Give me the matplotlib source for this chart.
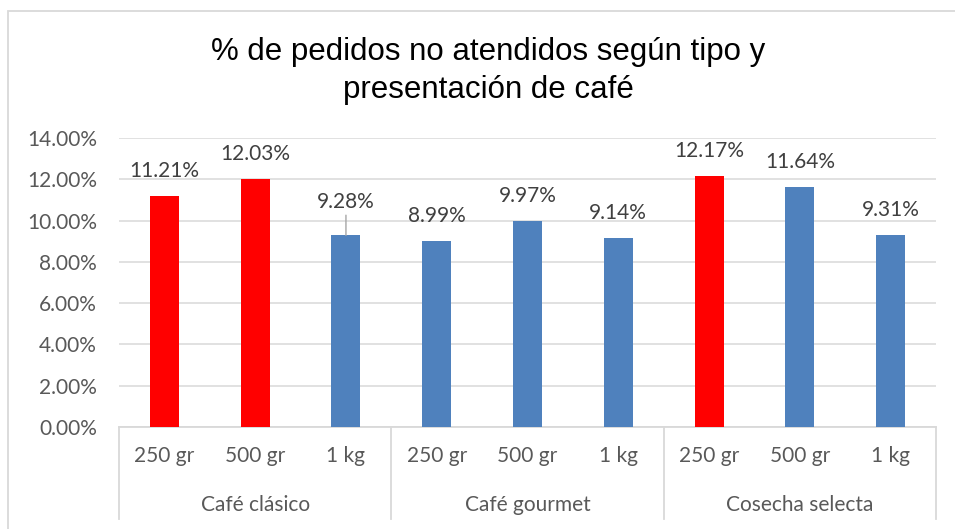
import matplotlib
matplotlib.use("Agg")
import matplotlib.pyplot as plt
from matplotlib.patches import Rectangle
from matplotlib.ticker import PercentFormatter, MultipleLocator
from matplotlib.transforms import blended_transform_factory

# datos
grupos = ["Café clásico", "Café gourmet", "Cosecha selecta"]
presentaciones = ["250 gr", "500 gr", "1 kg"]
porcentajes = [11.21, 12.03, 9.28, 8.99, 9.97, 9.14, 12.17, 11.64, 9.31]
destacados = [True, True, False, False, False, False, True, False, False]

ROJO = "#FF0000"
AZUL = "#4F81BD"
GRIS_TXT = "#595959"
GRIS_LINEA = "#D9D9D9"

W, H = 955, 529
fig = plt.figure(figsize=(W / 100, H / 100), dpi=100)
fig.patch.set_facecolor("white")

# marco del grafico (se sale por la derecha y por abajo)
fig.patches.append(Rectangle((8 / W, -0.1), 1.2, 1 - 11 / H + 0.1,
                             transform=fig.transFigure, fill=False,
                             edgecolor=GRIS_LINEA, lw=1.3))

x0, x1 = 119, 936
y_top, y_bot = 138, 427
ax = fig.add_axes([x0 / W, 1 - y_bot / H, (x1 - x0) / W, (y_bot - y_top) / H])

n = len(porcentajes)
pos = list(range(n))
colores = [ROJO if d else AZUL for d in destacados]
ax.bar(pos, porcentajes, width=0.32, color=colores, zorder=3)

ax.set_xlim(-0.5, n - 0.5)
ax.set_ylim(0, 14)
ax.yaxis.set_major_locator(MultipleLocator(2))
ax.yaxis.set_major_formatter(PercentFormatter(decimals=2))
ax.grid(axis="y", color=GRIS_LINEA, lw=1.1, zorder=0)
for s in ["top", "right", "left"]:
    ax.spines[s].set_visible(False)
ax.spines["bottom"].set_color(GRIS_LINEA)
ax.spines["bottom"].set_linewidth(1.3)
ax.tick_params(axis="y", length=0, pad=16, labelsize=15, labelcolor=GRIS_TXT)
for lbl in ax.get_yticklabels():
    lbl.set_family("Lato")

# etiquetas de presentacion
ax.set_xticks(pos)
ax.set_xticklabels(presentaciones * len(grupos), family="Lato", fontsize=15,
                   color=GRIS_TXT)
ax.tick_params(axis="x", length=0, pad=14)

# etiquetas de grupo y separadores
trans = blended_transform_factory(ax.transData, ax.transAxes)
bajo = -(519 - y_bot) / (y_bot - y_top)
for k in range(len(grupos) + 1):
    xs = k * 3 - 0.5
    ax.plot([xs, xs], [0, bajo], transform=trans, color=GRIS_LINEA, lw=1.3,
            clip_on=False)
for k, g in enumerate(grupos):
    ax.text(k * 3 + 1, -(505 - y_bot) / (y_bot - y_top), g, transform=trans,
            ha="center", va="center", family="Lato", fontsize=15,
            color=GRIS_TXT)

# etiquetas de datos
for i, v in enumerate(porcentajes):
    if i == 2:
        ax.annotate(f"{v:.2f}%", xy=(i, v), xytext=(0, 33),
                    textcoords="offset pixels", ha="center", va="center",
                    family="Lato", fontsize=15, color="#404040",
                    arrowprops=dict(arrowstyle="-", color="#A6A6A6", lw=1,
                                    shrinkA=0, shrinkB=0))
    else:
        ax.annotate(f"{v:.2f}%", xy=(i, v), xytext=(0, 25),
                    textcoords="offset pixels", ha="center", va="center",
                    family="Lato", fontsize=15, color="#404040")

fig.text(488 / W, 1 - 71 / H, "% de pedidos no atendidos según tipo y\npresentación de café",
         ha="center", va="center", family="Liberation Sans", fontsize=22.5,
         color="black", linespacing=1.35)

fig.savefig("out.png", dpi=100)
